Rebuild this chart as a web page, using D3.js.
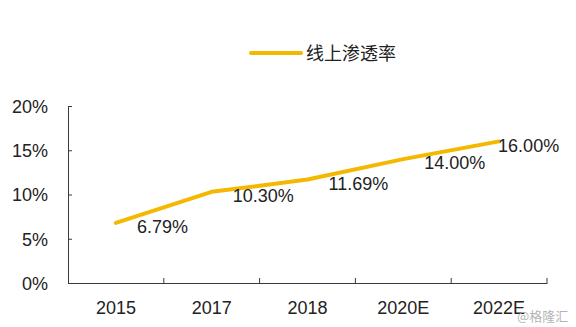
<!DOCTYPE html>
<html><head><meta charset="utf-8">
<script src="https://cdn.jsdelivr.net/npm/d3@7"></script>
<style>body{margin:0;background:#fff;}svg{display:block;}</style>
</head><body>
<script>
const categories = ["2015", "2017", "2018", "2020E", "2022E"];
const values = [6.79, 10.30, 11.69, 14.00, 16.00];
const yTicks = [0, 5, 10, 15, 20];
const seriesName = "线上渗透率";

const W = 576, H = 327;
const m = {left: 68, right: 29, top: 106, bottom: 44};
const svg = d3.select("body").append("svg").attr("width", W).attr("height", H);
const x = d3.scaleBand().domain(categories).range([m.left, W - m.right]);
const y = d3.scaleLinear().domain([0, 20]).range([H - m.bottom, m.top]);
const font = "'Liberation Sans', Arial, sans-serif";
const axisColor = "#3a3a3a";

// y axis
const yAxis = svg.append("g").attr("transform", `translate(${m.left},0)`)
  .call(d3.axisRight(y).tickValues(yTicks).tickSize(4).tickFormat(d => d + "%"));
yAxis.select(".domain").attr("stroke", axisColor);
yAxis.selectAll(".tick line").attr("stroke", axisColor);
yAxis.selectAll(".tick text").attr("x", -20).attr("text-anchor", "end")
  .attr("font-family", font).attr("font-size", 18).attr("fill", "#222").attr("dy", "0.35em");

// x axis
const xAxis = svg.append("g").attr("transform", `translate(0,${H - m.bottom})`)
  .call(d3.axisBottom(x).tickSize(0));
xAxis.select(".domain").attr("stroke", axisColor);
xAxis.selectAll(".tick text").attr("y", 25).attr("dy", "0.35em")
  .attr("font-family", font).attr("font-size", 18).attr("fill", "#222");
// boundary tick marks pointing up
const bounds = categories.slice(1).map(c => x(c)).concat([x.range()[1]]);
svg.append("g").selectAll("line").data(bounds).join("line")
  .attr("x1", d => d).attr("x2", d => d)
  .attr("y1", H - m.bottom).attr("y2", H - m.bottom - 5)
  .attr("stroke", axisColor);

// line
const cx = c => x(c) + x.bandwidth() / 2;
const line = d3.line().x((d, i) => cx(categories[i])).y(d => y(d));
svg.append("path").datum(values).attr("d", line)
  .attr("fill", "none").attr("stroke", "#F4B800").attr("stroke-width", 4)
  .attr("stroke-linejoin", "round").attr("stroke-linecap", "round");

// labels
svg.append("g").selectAll("text").data(values).join("text")
  .attr("x", (d, i) => cx(categories[i]) + (i === values.length - 1 ? -1 : 21))
  .attr("y", d => y(d) + 4).attr("dy", "0.35em")
  .attr("font-family", font).attr("font-size", 18).attr("fill", "#222")
  .text(d => d.toFixed(2) + "%");

// legend
svg.append("line").attr("x1", 251).attr("x2", 301).attr("y1", 53).attr("y2", 53)
  .attr("stroke", "#F4B800").attr("stroke-width", 4).attr("stroke-linecap", "round");
svg.append("text").attr("x", 306).attr("y", 54).attr("dy", "0.35em")
  .attr("font-family", "'Noto Sans CJK SC', sans-serif").attr("font-size", 18).attr("fill", "#222")
  .text(seriesName);

// watermark
svg.append("text").attr("x", 517).attr("y", 316).attr("dy", "0.35em")
  .attr("font-family", "'Noto Sans CJK SC', sans-serif").attr("font-size", 13).attr("fill", "#b5b5b5")
  .text("@格隆汇");
</script>
</body></html>
